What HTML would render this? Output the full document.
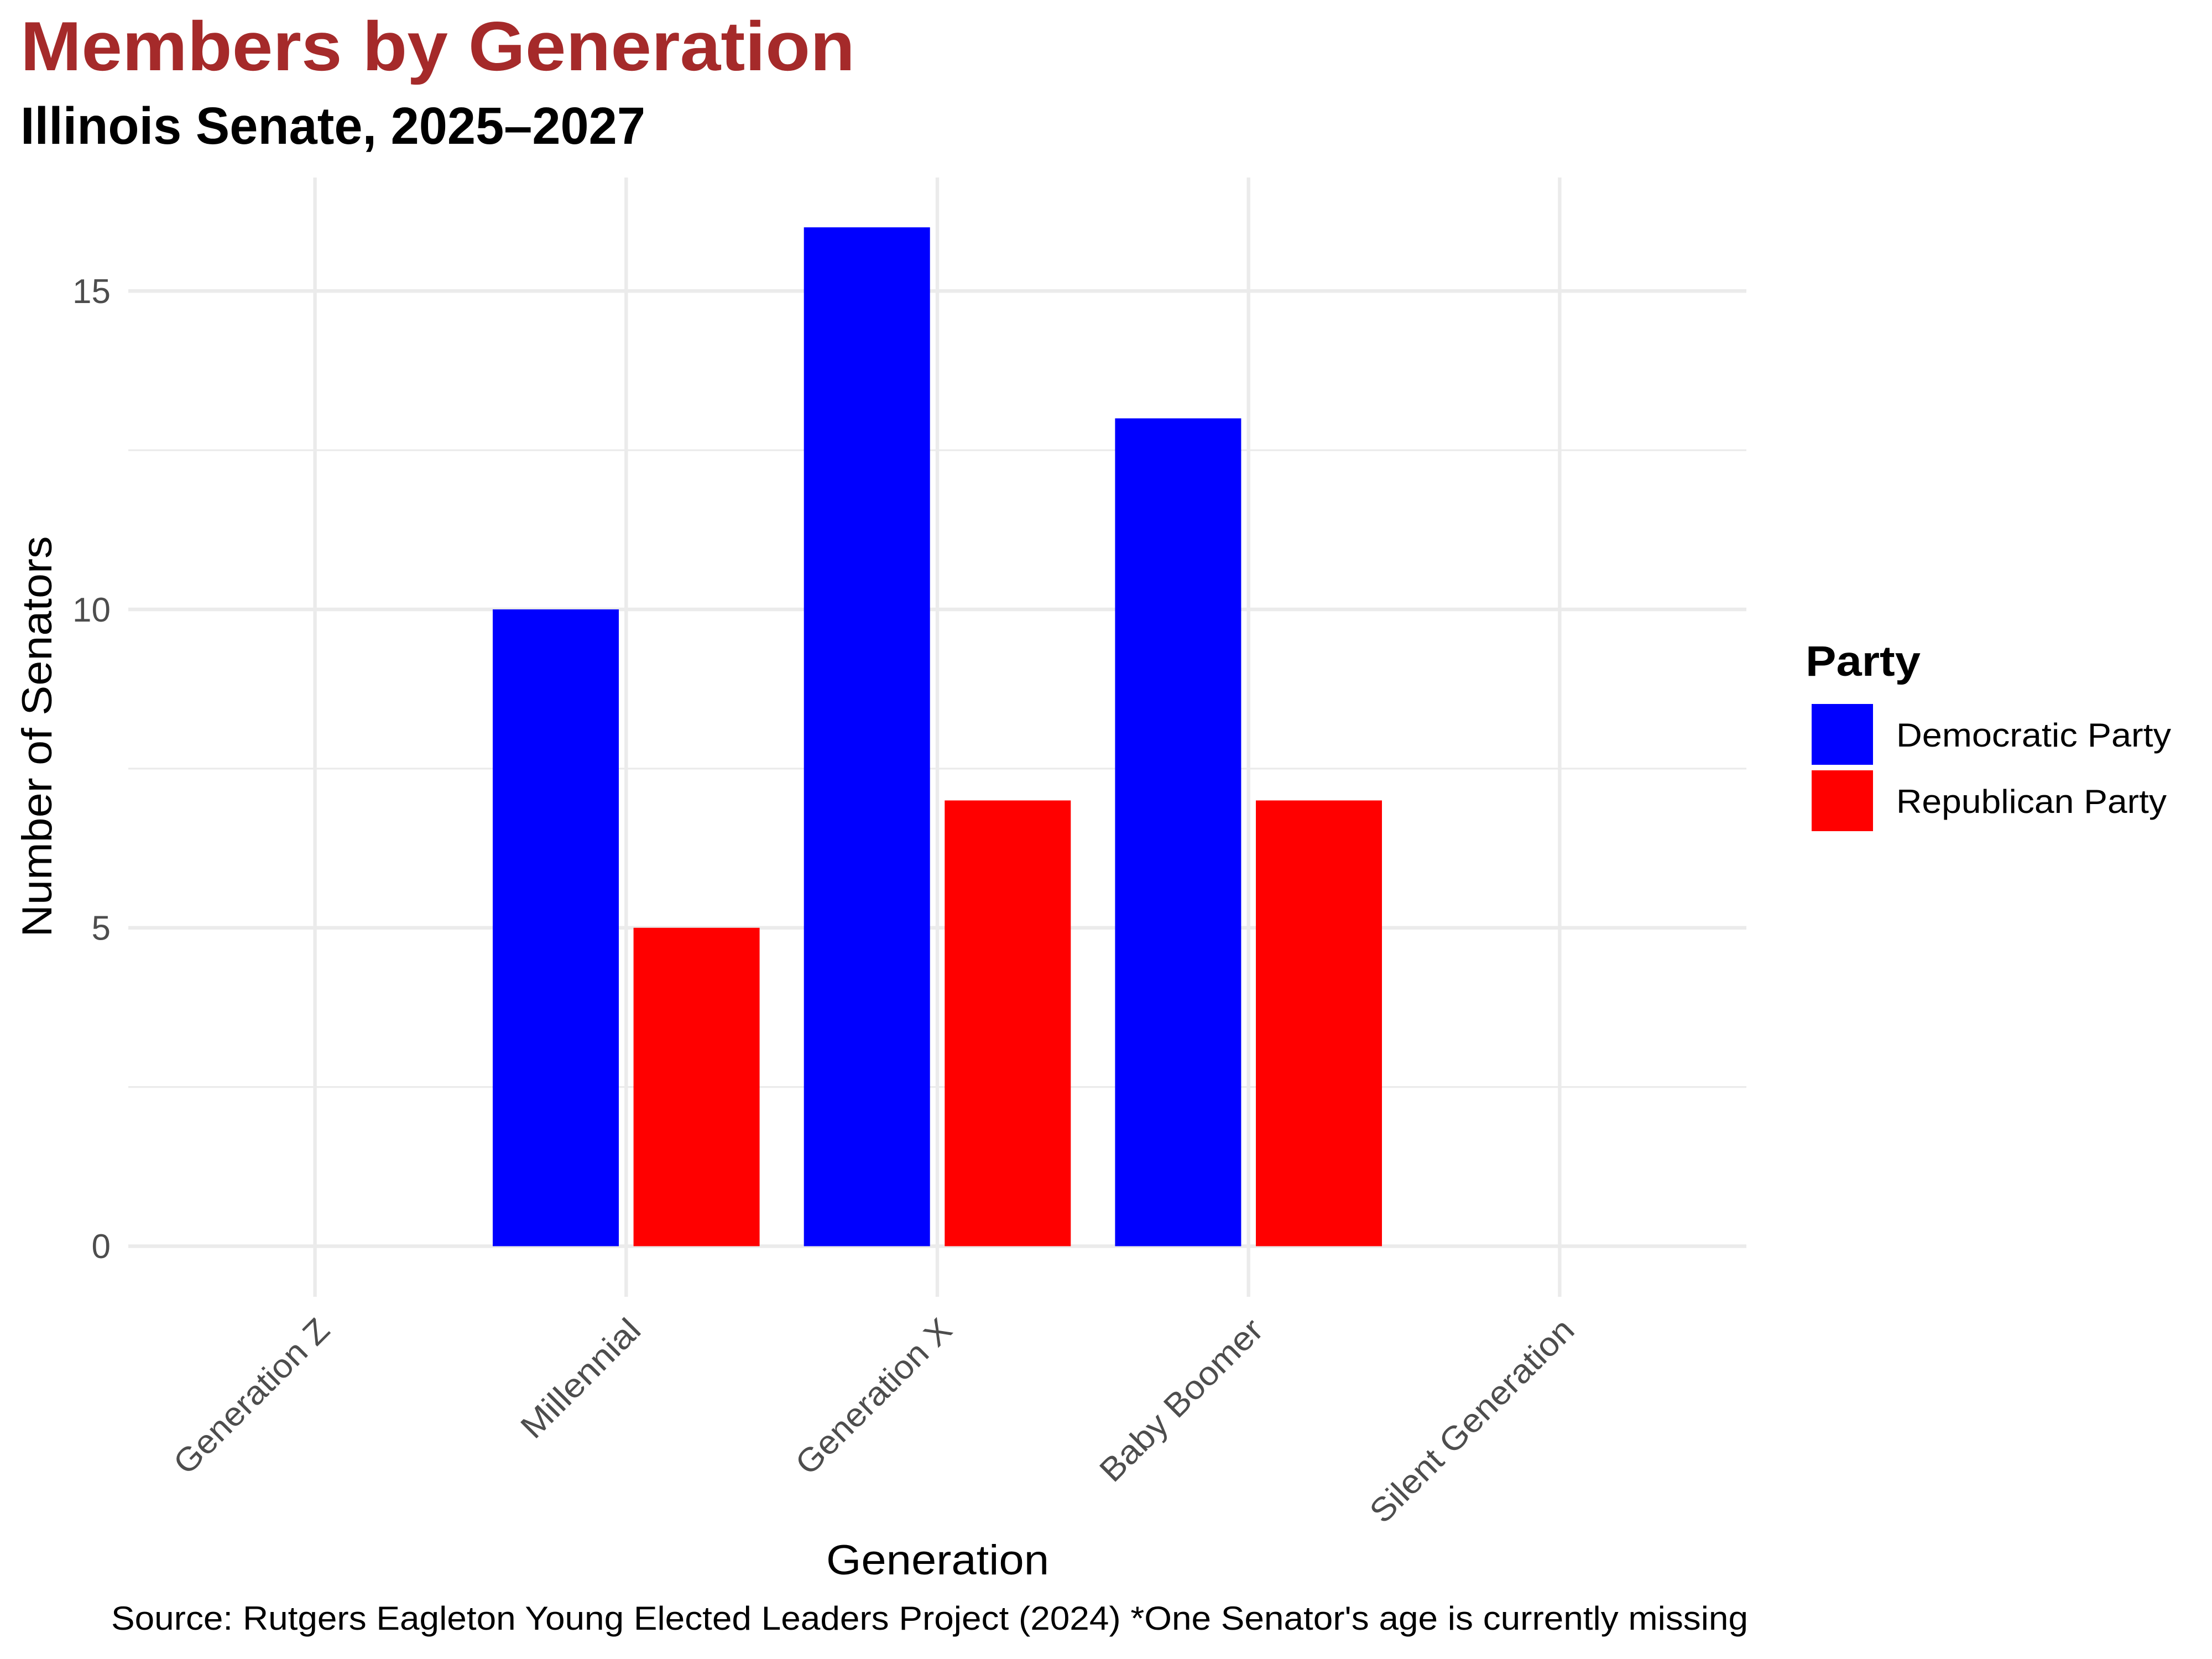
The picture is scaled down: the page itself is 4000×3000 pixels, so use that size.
<!DOCTYPE html>
<html>
<head>
<meta charset="utf-8">
<style>
html,body{margin:0;padding:0;background:#fff;}
svg{display:block;}
text{font-family:"Liberation Sans","DejaVu Sans",sans-serif;}
</style>
</head>
<body>
<svg width="4000" height="3000" viewBox="0 0 4000 3000" xmlns="http://www.w3.org/2000/svg">
<rect x="0" y="0" width="4000" height="3000" fill="#ffffff"/>

<!-- Title / subtitle -->
<text x="37" y="127" font-size="126" font-weight="bold" fill="#A52A2A" textLength="1509" lengthAdjust="spacingAndGlyphs">Members by Generation</text>
<text x="37" y="260" font-size="95" font-weight="bold" fill="#000000" textLength="1130" lengthAdjust="spacingAndGlyphs">Illinois Senate, 2025–2027</text>

<!-- minor horizontal gridlines -->
<g stroke="#EBEBEB" stroke-width="3.2">
<line x1="232" y1="1965.6" x2="3158" y2="1965.6"/>
<line x1="232" y1="1389.9" x2="3158" y2="1389.9"/>
<line x1="232" y1="814.1" x2="3158" y2="814.1"/>
</g>
<!-- major gridlines -->
<g stroke="#EBEBEB" stroke-width="6.4">
<line x1="232" y1="2253.5" x2="3158" y2="2253.5"/>
<line x1="232" y1="1677.75" x2="3158" y2="1677.75"/>
<line x1="232" y1="1102" x2="3158" y2="1102"/>
<line x1="232" y1="526.25" x2="3158" y2="526.25"/>
<line x1="569.6" y1="321" x2="569.6" y2="2345"/>
<line x1="1132.3" y1="321" x2="1132.3" y2="2345"/>
<line x1="1695" y1="321" x2="1695" y2="2345"/>
<line x1="2257.7" y1="321" x2="2257.7" y2="2345"/>
<line x1="2820.4" y1="321" x2="2820.4" y2="2345"/>
</g>

<!-- bars -->
<rect x="891" y="1102" width="228" height="1151.5" fill="#0000FF"/>
<rect x="1145.6" y="1677.75" width="228" height="575.75" fill="#FF0000"/>
<rect x="1453.7" y="411.1" width="228" height="1842.4" fill="#0000FF"/>
<rect x="1708.3" y="1447.45" width="228" height="806.05" fill="#FF0000"/>
<rect x="2016.4" y="756.5" width="228" height="1497" fill="#0000FF"/>
<rect x="2271" y="1447.45" width="228" height="806.05" fill="#FF0000"/>

<!-- y tick labels -->
<g font-size="62" fill="#4D4D4D" text-anchor="end">
<text x="200" y="2275">0</text>
<text x="200" y="1699.5">5</text>
<text x="200" y="1124">10</text>
<text x="200" y="548">15</text>
</g>

<!-- x tick labels -->
<g font-size="60" fill="#4D4D4D" text-anchor="end">
<text transform="translate(599.6,2409) rotate(-45)" textLength="369" lengthAdjust="spacingAndGlyphs">Generation Z</text>
<text transform="translate(1162.3,2409) rotate(-45)" textLength="277" lengthAdjust="spacingAndGlyphs">Millennial</text>
<text transform="translate(1725,2409) rotate(-45)" textLength="370" lengthAdjust="spacingAndGlyphs">Generation X</text>
<text transform="translate(2287.7,2409) rotate(-45)" textLength="388" lengthAdjust="spacingAndGlyphs">Baby Boomer</text>
<text transform="translate(2850.4,2409) rotate(-45)" textLength="493" lengthAdjust="spacingAndGlyphs">Silent Generation</text>
</g>

<!-- axis titles -->
<text x="1494" y="2847" font-size="76" fill="#000000" textLength="403" lengthAdjust="spacingAndGlyphs">Generation</text>
<text transform="translate(93,1332) rotate(-90)" font-size="76" fill="#000000" text-anchor="middle" textLength="725" lengthAdjust="spacingAndGlyphs">Number of Senators</text>

<!-- legend -->
<text x="3265" y="1222" font-size="77" font-weight="bold" fill="#000000" textLength="208" lengthAdjust="spacingAndGlyphs">Party</text>
<rect x="3276" y="1273" width="111" height="110" fill="#0000FF"/>
<rect x="3276" y="1393" width="111" height="110" fill="#FF0000"/>
<text x="3429" y="1350" font-size="60" fill="#000000" textLength="497" lengthAdjust="spacingAndGlyphs">Democratic Party</text>
<text x="3429" y="1470" font-size="60" fill="#000000" textLength="489" lengthAdjust="spacingAndGlyphs">Republican Party</text>

<!-- caption -->
<text x="201" y="2947" font-size="60" fill="#000000" textLength="2960" lengthAdjust="spacingAndGlyphs">Source: Rutgers Eagleton Young Elected Leaders Project (2024) *One Senator's age is currently missing</text>
</svg>
</body>
</html>
